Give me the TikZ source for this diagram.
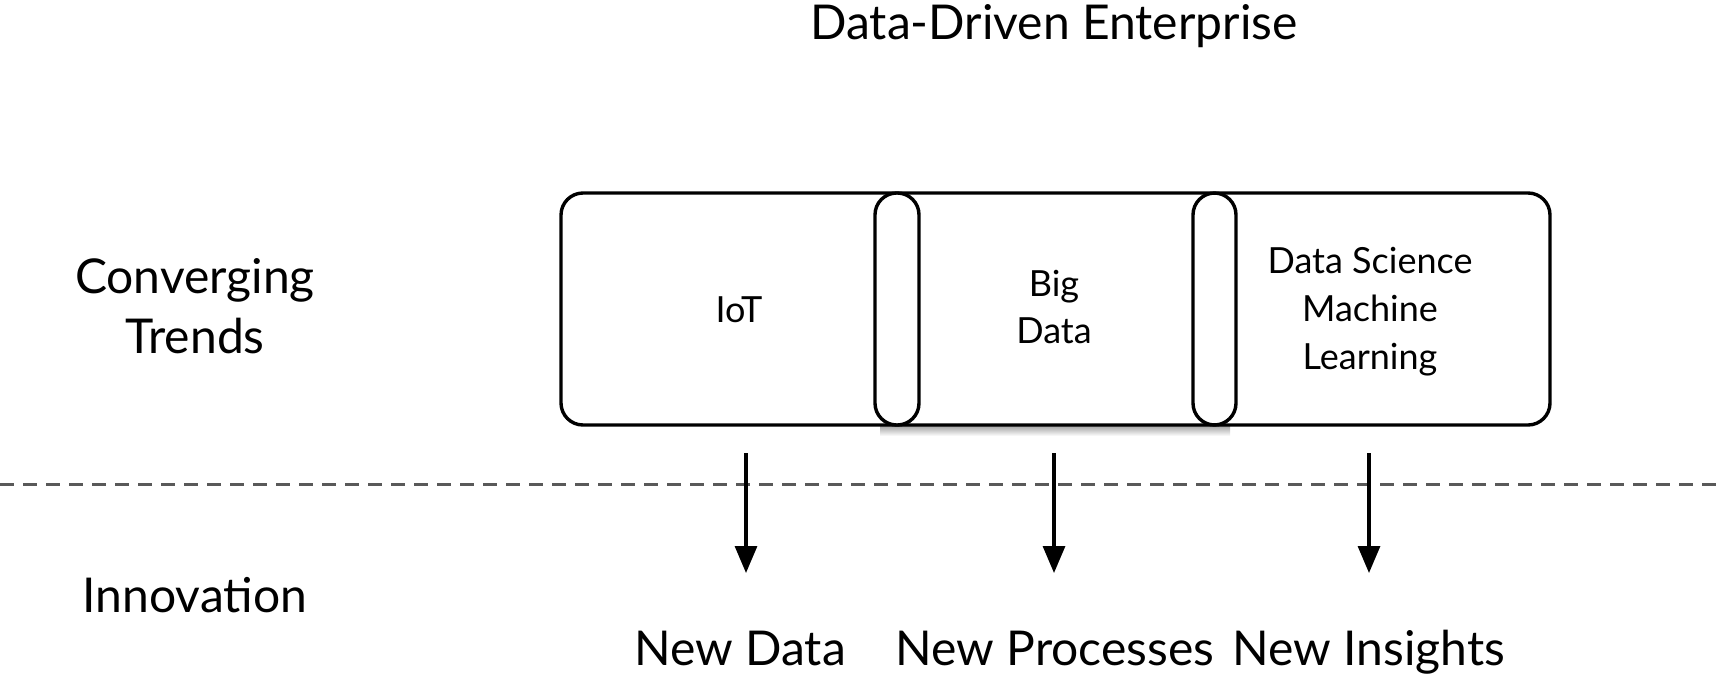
\documentclass[tikz,border=0pt]{standalone}
\usepackage{fontspec}
\setmainfont{Lato}
\usetikzlibrary{arrows.meta}
\begin{document}
\begin{tikzpicture}[x=0.5pt,y=-0.5pt,
  big/.style={font=\fontsize{24}{30}\selectfont, inner sep=0pt, align=center},
  small/.style={font=\fontsize{18}{23.5}\selectfont, inner sep=0pt, align=center},
  frame/.style={draw=black, line width=1.7pt, rounded corners=11pt},
  pill/.style={draw=black, line width=1.7pt, fill=white, rounded corners=10.9pt},
  flow/.style={line width=1.6pt, -{Triangle[length=13.5pt,width=11pt]}},
  divider/.style={draw=black!65, line width=1.5pt, dash pattern=on 7pt off 4.5pt}]
\useasboundingbox (0,0) rectangle (1719,681);
% shadow under middle section
\shade[top color=black!35, bottom color=white] (880,426) rectangle (1230,436);
% outer frame
\draw[frame] (561,193) rectangle (1550,425);
% pills
\draw[pill] (875,193) rectangle (919,425);
\draw[pill] (1193,193) rectangle (1236,425);
% texts
\node[big, anchor=base] (title) at (1054,39) {Data-Driven Enterprise};
\node[big] (conv) at (195,306) {Converging\\Trends};
\node[big, anchor=base] (innov) at (195,612) {Innovation};
\node[small, anchor=base] (iot) at (739,322) {IoT};
\node[small] (bigdata) at (1054,307) {Big\\Data};
\node[small, font=\fontsize{18}{24}\selectfont] (dsml) at (1370,312) {Data Science\\Machine\\Learning};
\node[big, anchor=base] (nd) at (740,665) {New Data};
\node[big, anchor=base] (np) at (1055,665) {New Processes};
\node[big, anchor=base] (ni) at (1369,665) {New Insights};
% dashed divider
\coordinate (dl) at (0,484);
\coordinate (dr) at (1719,484);
\draw[divider] (dl) -- (dr);
% arrows
\coordinate (a1s) at (746,453); \coordinate (a1e) at (746,573);
\coordinate (a2s) at (1054,453); \coordinate (a2e) at (1054,573);
\coordinate (a3s) at (1369,453); \coordinate (a3e) at (1369,573);
\draw[flow] (a1s) -- (a1e);
\draw[flow] (a2s) -- (a2e);
\draw[flow] (a3s) -- (a3e);
\end{tikzpicture}
\end{document}
